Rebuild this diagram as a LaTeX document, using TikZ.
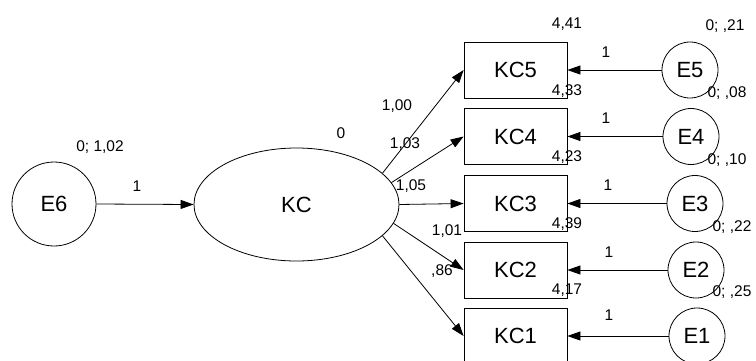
\documentclass[tikz,border=0pt]{standalone}
\usepackage{fontspec}
\setmainfont{Liberation Sans}
\usetikzlibrary{arrows.meta,shapes.geometric}
\begin{document}
\begin{tikzpicture}[x=1pt,y=-1pt,
  every node/.style={inner sep=0pt},
  big/.style={font=\fontsize{22}{24}\selectfont},
  small/.style={font=\fontsize{15.5}{17}\selectfont},
  obs/.style={draw,line width=0.8pt,minimum width=103pt,minimum height=56pt,big},
  err/.style={draw,circle,line width=0.8pt,minimum size=56pt,big},
  conn/.style={line width=0.8pt,-{Triangle[length=13pt,width=9pt]}}]
\useasboundingbox (0,0) rectangle (756,360);
% nodes
\node[err,minimum size=84pt] (E6) at (54,204) {E6};
\node[draw,ellipse,line width=0.8pt,minimum width=205pt,minimum height=113pt,big] (KC) at (296.5,204.5) {KC};
\node[obs] (KC5) at (515.5,70) {KC5};
\node[obs] (KC4) at (515.5,136.5) {KC4};
\node[obs] (KC3) at (515.5,203.5) {KC3};
\node[obs] (KC2) at (515.5,270) {KC2};
\node[obs] (KC1) at (515.5,336) {KC1};
\node[err] (E5) at (690,70) {E5};
\node[err] (E4) at (691,136.5) {E4};
\node[err] (E3) at (695,203.5) {E3};
\node[err] (E2) at (696,270) {E2};
\node[err] (E1) at (697,336) {E1};
% connectors
\draw[conn] (E6.east) -- (KC.west);
\draw[conn] (KC.20) -- (KC5.west);
\draw[conn] (KC.13.5) -- (KC4.west);
\draw[conn] (KC.east) -- (KC3.west);
\draw[conn] (KC.-11.5) -- (KC2.west);
\draw[conn] (KC.-20) -- (KC1.west);
\draw[conn] (E5.west) -- (KC5.east);
\draw[conn] (E4.west) -- (KC4.east);
\draw[conn] (E3.west) -- (KC3.east);
\draw[conn] (E2.west) -- (KC2.east);
\draw[conn] (E1.west) -- (KC1.east);
% labels
\node[small] (l6) at (100,147) {0; 1,02};
\node[small] (l61) at (137,186) {1};
\node[small] (lkc) at (341,133) {0};
\node[small] (p5) at (397,106) {1,00};
\node[small] (p4) at (405,144) {1,03};
\node[small] (p3) at (411,186) {1,05};
\node[small] (p2) at (447,231) {1,01};
\node[small] (p1) at (442,271) {,86};
\node[small] (m5) at (567,24) {4,41};
\node[small] (m4) at (567,91) {4,33};
\node[small] (m3) at (567,157) {4,23};
\node[small] (m2) at (567,224) {4,39};
\node[small] (m1) at (567,290) {4,17};
\node[small] (v5) at (725,26) {0; ,21};
\node[small] (v4) at (727,93) {0; ,08};
\node[small] (v3) at (727,160) {0; ,10};
\node[small] (v2) at (732,227) {0; ,22};
\node[small] (v1) at (732,292) {0; ,25};
\node[small] (o5) at (606,52) {1};
\node[small] (o4) at (606,118) {1};
\node[small] (o3) at (608,185) {1};
\node[small] (o2) at (609,252) {1};
\node[small] (o1) at (609,315) {1};
\end{tikzpicture}
\end{document}
